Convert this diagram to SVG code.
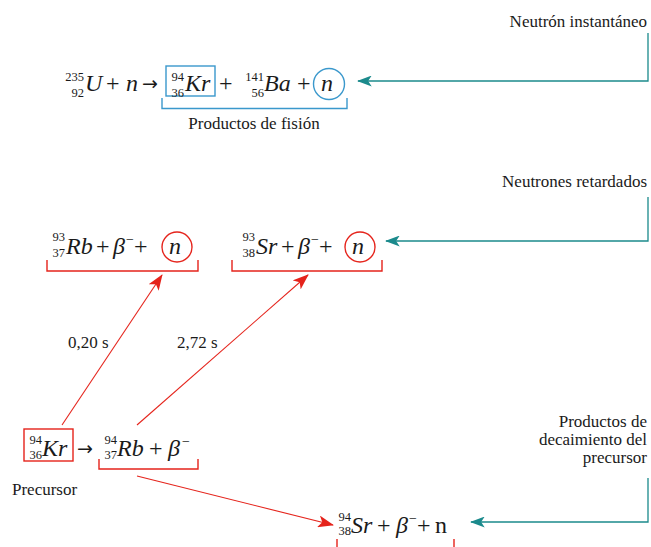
<svg xmlns="http://www.w3.org/2000/svg" width="651" height="547" viewBox="0 0 651 547">
<defs>
<style>
.m{font-family:"Liberation Serif","Times New Roman",serif;font-size:24px;fill:#1a1a1a}
.i{font-style:italic}
.ar{font-family:"DejaVu Sans",sans-serif;font-size:19px;fill:#1a1a1a}
.s{font-family:"Liberation Serif","Times New Roman",serif;font-size:12.5px;fill:#1a1a1a;text-anchor:end}
.mi{font-family:"Liberation Serif","Times New Roman",serif;font-size:14px;fill:#1a1a1a}
.l{font-family:"Liberation Serif","Times New Roman",serif;font-size:17px;fill:#1a1a1a}
.r{text-anchor:end}
.blue{fill:none;stroke:#3a98cc;stroke-width:1.4}
.red{fill:none;stroke:#e5231b;stroke-width:1.4}
.teal{fill:none;stroke:#1b8a8c;stroke-width:1.3}
.redl{fill:none;stroke:#e5231b;stroke-width:1.1}
</style>
<marker id="ah-red" viewBox="0 0 16 12" refX="15" refY="6" markerWidth="16" markerHeight="12" markerUnits="userSpaceOnUse" orient="auto">
<path d="M0,0 L16,6 L0,12 L4,6 Z" fill="#e5231b"/>
</marker>
<marker id="ah-teal" viewBox="0 0 16 12" refX="15" refY="6" markerWidth="16" markerHeight="11" markerUnits="userSpaceOnUse" orient="auto">
<path d="M0,0 L16,6 L0,12 L4,6 Z" fill="#1b8a8c"/>
</marker>
</defs>

<g id="eq-fission">
<text class="s" x="84" y="81">235</text>
<text class="s" x="84" y="97">92</text>
<text class="m i" x="85" y="91">U</text>
<text class="m" x="106" y="91">+</text>
<text class="m i" x="126" y="91">n</text>
<text class="ar" x="142" y="90">→</text>
<rect class="blue" x="166" y="66" width="49" height="30"/>
<text class="s" x="184" y="81">94</text>
<text class="s" x="184" y="97">36</text>
<text class="m i" x="185" y="91">Kr</text>
<text class="m" x="219" y="91">+</text>
<text class="s" x="264" y="81">141</text>
<text class="s" x="264" y="97">56</text>
<text class="m i" x="264" y="91">Ba</text>
<text class="m" x="297" y="91">+</text>
<circle class="blue" cx="329" cy="84" r="15.5"/>
<text class="m i" x="321" y="91">n</text>
<path class="blue" d="M162,98 V108.5 H347 V98"/>
<text class="l" x="254" y="129" text-anchor="middle">Productos de fisión</text>
</g>

<g id="label-instant">
<text class="l r" x="647" y="27">Neutrón instantáneo</text>
</g>

<g id="eq-rb93">
<text class="s" x="65" y="241">93</text>
<text class="s" x="65" y="257">37</text>
<text class="m i" x="66" y="254">Rb</text>
<text class="m" x="96" y="254">+</text>
<text class="m i" x="113" y="254">β</text>
<text class="mi" x="126" y="244">−</text>
<text class="m" x="134" y="254">+</text>
<circle class="red" cx="177" cy="247" r="15"/>
<text class="m i" x="169" y="254">n</text>
<path class="red" d="M47,260 V271 H198 V260"/>
</g>

<g id="eq-sr93">
<text class="s" x="255" y="241">93</text>
<text class="s" x="255" y="257">38</text>
<text class="m i" x="256" y="254">Sr</text>
<text class="m" x="281" y="254">+</text>
<text class="m i" x="298" y="254">β</text>
<text class="mi" x="311" y="244">−</text>
<text class="m" x="319" y="254">+</text>
<circle class="red" cx="360" cy="247" r="15"/>
<text class="m i" x="352" y="254">n</text>
<path class="red" d="M232,260 V271 H382 V260"/>
</g>

<g id="label-delayed">
<text class="l r" x="647" y="187">Neutrones retardados</text>
</g>

<g id="label-t1"><text class="l" x="68" y="348">0,20 s</text></g>
<g id="label-t2"><text class="l" x="177" y="348">2,72 s</text></g>

<g id="eq-precursor">
<rect class="red" x="24" y="429" width="49" height="32"/>
<text class="s" x="42" y="444">94</text>
<text class="s" x="42" y="459">36</text>
<text class="m i" x="42" y="456">Kr</text>
<text class="ar" x="77" y="455">→</text>
<text class="s" x="117" y="444">94</text>
<text class="s" x="117" y="459">37</text>
<text class="m i" x="117" y="456">Rb</text>
<text class="m" x="149" y="456">+</text>
<text class="m i" x="168" y="456">β</text>
<text class="mi" x="182" y="446">−</text>
<path class="red" d="M99,459 V469 H198 V459"/>
</g>

<g id="label-precursor">
<text class="l" x="12" y="495">Precursor</text>
</g>

<g id="eq-sr94">
<text class="s" x="351" y="521">94</text>
<text class="s" x="351" y="535">38</text>
<text class="m i" x="351" y="533">Sr</text>
<text class="m" x="377" y="533">+</text>
<text class="m i" x="396" y="533">β</text>
<text class="mi" x="409" y="523">−</text>
<text class="m" x="417" y="533">+</text>
<text class="m" x="435" y="533">n</text>
<path class="red" d="M337,539 V548 M454,539 V548"/>
</g>

<g id="label-decay-products">
<text class="l r" x="647" y="427">Productos de</text>
<text class="l r" x="647" y="445">decaimiento del</text>
<text class="l r" x="647" y="463">precursor</text>
</g>

<g id="connectors">
<path class="teal" d="M648,33 V81 H358" marker-end="url(#ah-teal)"/>
<path class="teal" d="M648,197 V241 H386" marker-end="url(#ah-teal)"/>
<path class="teal" d="M648,478 V522 H471" marker-end="url(#ah-teal)"/>
<line class="redl" x1="62" y1="425" x2="162" y2="275" marker-end="url(#ah-red)"/>
<line class="redl" x1="137" y1="425" x2="308" y2="275" marker-end="url(#ah-red)"/>
<line class="redl" x1="137" y1="476" x2="333" y2="525" marker-end="url(#ah-red)"/>
</g>
</svg>
